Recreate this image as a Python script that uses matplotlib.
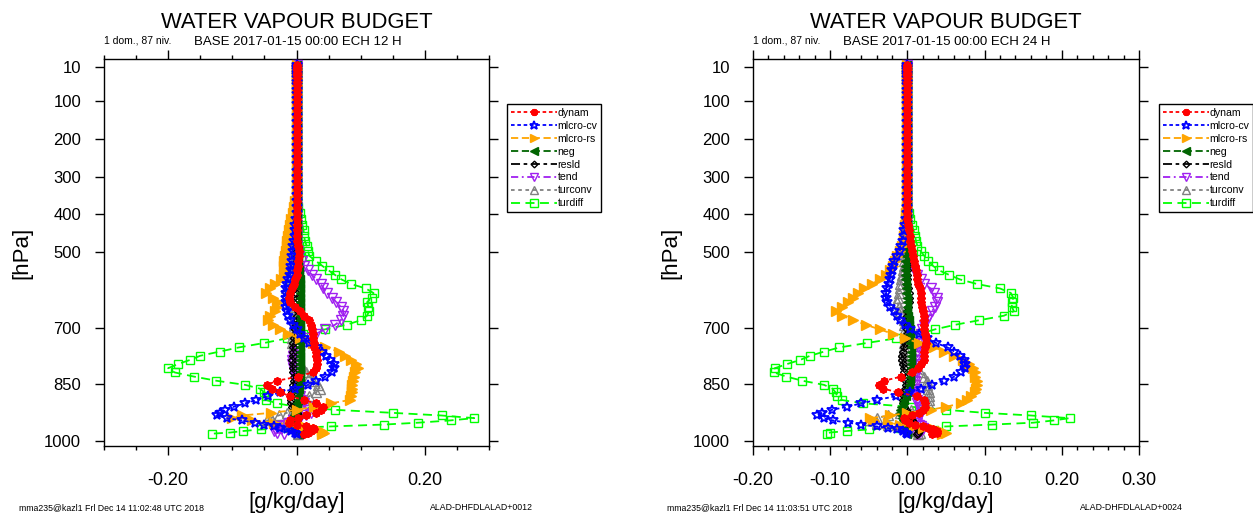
import matplotlib
matplotlib.use("Agg")
import matplotlib.pyplot as plt
from matplotlib.ticker import MultipleLocator, FormatStrFormatter, NullLocator
from matplotlib.lines import Line2D

plt.rcParams['font.family'] = ['Liberation Sans', 'DejaVu Sans']
plt.rcParams['axes.unicode_minus'] = False

# ---------------- data ----------------
levels = [
    5, 10, 14, 19, 25, 32, 40, 49, 59, 70, 82, 95, 109, 124, 140, 156, 172, 188,
    204, 220, 236, 252, 268, 284, 300, 316, 332, 348, 364, 380, 396, 412, 427, 442, 456,
    470, 484, 497, 510, 523, 536, 548, 560, 572, 584, 596, 608, 620,
    632, 644, 656, 668, 680, 692, 704, 716, 728, 740, 752, 763, 774,
    785, 796, 807, 818, 829, 840, 851, 861, 871, 881, 891, 900, 909,
    917, 925, 932, 939, 945, 951, 956, 961, 965, 969, 973, 977, 980,
]

series_names = ["dynam", "micro-cv", "micro-rs", "neg", "resid", "tend", "turconv", "turdiff"]

# ECH 12 H
dynam_12 = [
    0, 0, 0, 0, 0, 0, 0, 0, 0, 0, 0, 0, 0, 0, 0, 0, 0, 0,
    0, 0, 0, 0, 0, 0, 0, 0, 0, 0, 0, 0, 0, 0, 0, 0, 0,
    0.001, 0.003, 0.004, 0.004, 0.003, 0.002, 0.001, 0.000, -0.002, -0.004, -0.007, -0.010, -0.012,
    -0.010, -0.003, 0.005, 0.012, 0.019, 0.022, 0.024, 0.025, 0.026, 0.027, 0.028, 0.030, 0.031,
    0.032, 0.032, 0.030, 0.025, 0.003, -0.030, -0.046, -0.038, -0.025, -0.010, 0.012, 0.030, 0.042,
    0.038, 0.030, 0.015, 0.002, -0.010, -0.012, 0.000, 0.015, 0.025, 0.028, 0.022, 0.018, 0.012,
]
microcv_12 = [
    0, 0, 0, 0, 0, 0, 0, 0, 0, 0, 0, 0, 0, 0, 0, 0, 0, 0,
    0, 0, 0, 0, 0, 0, 0, 0, 0, 0, 0, 0, 0, -0.001, -0.002, -0.003, -0.003,
    -0.004, -0.005, -0.006, -0.007, -0.007, -0.008, -0.009, -0.010, -0.013, -0.015, -0.016, -0.017, -0.017,
    -0.017, -0.016, -0.015, -0.013, -0.010, -0.005, 0.000, 0.005, 0.012, 0.020, 0.032, 0.040, 0.046,
    0.052, 0.058, 0.058, 0.055, 0.045, 0.030, 0.018, -0.003, -0.025, -0.045, -0.063, -0.080, -0.098,
    -0.112, -0.120, -0.124, -0.108, -0.085, -0.065, -0.050, -0.035, -0.025, -0.015, -0.008, -0.003, 0.000,
]
micrors_12 = [
    0, 0, 0, 0, 0, 0, 0, 0, 0, 0, 0, 0, 0, 0, 0, 0, 0, 0,
    0, 0, 0, 0, 0, 0, 0, 0, 0, 0, -0.002, -0.004, -0.006, -0.008, -0.010, -0.012, -0.014,
    -0.015, -0.015, -0.016, -0.018, -0.019, -0.020, -0.017, -0.019, -0.024, -0.033, -0.042, -0.047, -0.036,
    -0.029, -0.030, -0.034, -0.042, -0.045, -0.037, -0.026, -0.014, 0.005, 0.025, 0.045, 0.066, 0.076,
    0.085, 0.092, 0.096, 0.091, 0.089, 0.088, 0.087, 0.087, 0.086, 0.085, 0.083, 0.053, 0.028,
    0.000, -0.040, -0.085, -0.100, -0.070, -0.035, -0.010, 0.012, 0.022, 0.032, 0.040, 0.043, 0.040,
]
neg_12 = [
    0, 0, 0, 0, 0, 0, 0, 0, 0, 0, 0, 0, 0, 0, 0, 0, 0, 0,
    0, 0, 0, 0, 0, 0, 0, 0, 0, 0, 0, 0, 0, 0, 0, 0, 0.001,
    0.001, 0.001, 0.002, 0.002, 0.003, 0.003, 0.004, 0.004, 0.005, 0.005, 0.005, 0.005, 0.005,
    0.005, 0.005, 0.005, 0.005, 0.005, 0.005, 0.006, 0.006, 0.006, 0.006, 0.006, 0.006, 0.006,
    0.006, 0.006, 0.006, 0.005, 0.005, 0.005, 0.004, 0.004, 0.003, 0.003, 0.002, 0.001, 0.000,
    -0.002, -0.003, -0.004, -0.005, -0.006, -0.006, -0.005, -0.004, -0.003, -0.002, -0.001, 0.000, 0.000,
]
resid_12 = [
    0, 0, 0, 0, 0, 0, 0, 0, 0, 0, 0, 0, 0, 0, 0, 0, 0, 0,
    0, 0, 0, 0, 0, 0, 0, 0, 0, 0, 0, 0, 0, 0, 0, 0, 0,
    0.000, 0.000, 0.000, 0.000, 0.000, 0.000, 0.000, 0.000, -0.001, -0.002, -0.002, -0.001, 0.000,
    0.001, 0.002, 0.002, 0.001, 0.000, -0.001, -0.002, -0.003, -0.004, -0.005, -0.006, -0.006, -0.006,
    -0.007, -0.006, -0.006, -0.005, -0.004, -0.004, -0.005, -0.006, -0.007, -0.008, -0.009, -0.009, -0.007,
    -0.004, 0.000, 0.003, 0.002, 0.000, -0.002, 0.002, 0.006, 0.010, 0.013, 0.015, 0.014, 0.010,
]
tend_12 = [
    0, 0, 0, 0, 0, 0, 0, 0, 0, 0, 0, 0, 0, 0, 0, 0, 0, 0,
    0, 0, 0, 0, 0, 0, 0, 0, 0, 0, 0, 0, 0, 0, 0, 0, 0,
    0.000, 0.001, 0.002, 0.004, 0.008, 0.012, 0.018, 0.024, 0.031, 0.038, 0.042, 0.048, 0.055,
    0.062, 0.069, 0.073, 0.073, 0.069, 0.060, 0.045, 0.030, 0.016, 0.008, 0.002, -0.003, -0.006,
    -0.007, -0.007, -0.006, -0.004, -0.002, 0.000, 0.002, 0.003, 0.004, 0.005, 0.007, 0.012, 0.017,
    0.020, 0.022, 0.015, 0.005, -0.005, -0.012, -0.018, -0.025, -0.030, -0.034, -0.035, -0.030, -0.020,
]
turconv_12 = [
    0, 0, 0, 0, 0, 0, 0, 0, 0, 0, 0, 0, 0, 0, 0, 0, 0, 0,
    0, 0, 0, 0, 0, 0, 0, 0, 0, 0, 0, 0, 0, 0, 0, 0, 0,
    0.000, -0.001, -0.002, -0.003, -0.004, -0.005, -0.007, -0.009, -0.011, -0.014, -0.016, -0.015, -0.012,
    -0.009, -0.006, -0.004, -0.003, -0.003, -0.004, -0.005, -0.006, -0.007, -0.007, -0.005, -0.003, 0.000,
    0.002, 0.006, 0.010, 0.015, 0.020, 0.026, 0.034, 0.036, 0.030, 0.020, 0.012, 0.006, 0.001,
    -0.006, -0.015, -0.028, -0.040, -0.046, -0.035, -0.020, -0.010, -0.003, 0.000, 0.002, 0.003, 0.002,
]
turdiff_12 = [
    0, 0, 0, 0, 0, 0, 0, 0, 0, 0, 0, 0, 0, 0, 0, 0, 0, 0,
    0, 0, 0, 0, 0, 0, 0, 0, 0, 0, 0.001, 0.003, 0.005, 0.007, 0.009, 0.011, 0.012,
    0.013, 0.016, 0.018, 0.020, 0.030, 0.040, 0.050, 0.060, 0.070, 0.085, 0.108, 0.120, 0.118,
    0.110, 0.112, 0.113, 0.110, 0.100, 0.078, 0.045, 0.010, -0.015, -0.050, -0.090, -0.120, -0.150,
    -0.166, -0.185, -0.200, -0.190, -0.160, -0.125, -0.080, -0.057, -0.050, -0.048, -0.047, -0.030, 0.000,
    0.060, 0.150, 0.226, 0.277, 0.240, 0.190, 0.136, 0.053, -0.010, -0.056, -0.083, -0.103, -0.131,
]

# ECH 24 H
dynam_24 = [
    0, 0, 0, 0, 0, 0, 0, 0, 0, 0, 0, 0, 0, 0, 0, 0, 0, 0,
    0, 0, 0, 0, 0, 0, 0, 0, 0, 0, 0, 0, 0, 0, 0.001, 0.002, 0.003,
    0.004, 0.005, 0.006, 0.007, 0.008, 0.010, 0.011, 0.012, 0.013, 0.014, 0.016, 0.017, 0.018,
    0.018, 0.019, 0.020, 0.021, 0.021, 0.022, 0.022, 0.023, 0.024, 0.024, 0.023, 0.022, 0.022,
    0.021, 0.018, 0.014, 0.006, -0.008, -0.030, -0.037, -0.031, -0.012, 0.012, 0.022, 0.023, 0.023,
    0.020, 0.015, 0.006, -0.004, -0.003, 0.002, 0.010, 0.020, 0.027, 0.033, 0.038, 0.038, 0.032,
]
microcv_24 = [
    0, 0, 0, 0, 0, 0, 0, 0, 0, 0, 0, 0, 0, 0, 0, 0, 0, 0,
    0, 0, 0, 0, 0, 0, 0, 0, 0, 0, 0, 0, -0.001, -0.002, -0.003, -0.004, -0.005,
    -0.006, -0.008, -0.010, -0.014, -0.017, -0.019, -0.020, -0.021, -0.023, -0.024, -0.026, -0.028, -0.028,
    -0.027, -0.023, -0.018, -0.014, -0.009, -0.003, 0.004, 0.015, 0.026, 0.037, 0.052, 0.061, 0.068,
    0.073, 0.075, 0.074, 0.069, 0.061, 0.047, 0.032, 0.018, 0.004, -0.015, -0.040, -0.060, -0.078,
    -0.098, -0.110, -0.117, -0.108, -0.097, -0.077, -0.060, -0.040, -0.025, -0.013, -0.006, -0.002, 0.000,
]
micrors_24 = [
    0, 0, 0, 0, 0, 0, 0, 0, 0, 0, 0, 0, 0, 0, 0, 0, 0, 0,
    0, 0, 0, 0, 0, 0, 0, 0, 0, 0, -0.001, -0.001, -0.002, -0.002, -0.003, -0.003, -0.004,
    -0.005, -0.007, -0.010, -0.013, -0.016, -0.019, -0.022, -0.028, -0.036, -0.046, -0.056, -0.064, -0.071,
    -0.077, -0.085, -0.092, -0.085, -0.070, -0.054, -0.036, -0.019, -0.003, 0.015, 0.035, 0.048, 0.061,
    0.072, 0.080, 0.085, 0.087, 0.088, 0.090, 0.090, 0.089, 0.087, 0.083, 0.077, 0.069, 0.050,
    0.030, 0.000, -0.022, -0.048, -0.045, -0.025, -0.010, 0.008, 0.020, 0.034, 0.045, 0.050, 0.045,
]
neg_24 = [
    0, 0, 0, 0, 0, 0, 0, 0, 0, 0, 0, 0, 0, 0, 0, 0, 0, 0,
    0, 0, 0, 0, 0, 0, 0, 0, 0, 0, 0, 0, 0, 0, 0, 0, -0.001,
    -0.001, -0.001, -0.002, -0.002, -0.003, -0.003, -0.003, -0.003, -0.003, -0.002, -0.002, -0.002, -0.001,
    -0.001, 0.000, 0.000, 0.001, 0.002, 0.002, 0.003, 0.003, 0.004, 0.004, 0.005, 0.005, 0.005,
    0.005, 0.005, 0.005, 0.004, 0.004, 0.003, 0.002, 0.001, 0.000, -0.002, -0.004, -0.006, -0.008,
    -0.009, -0.009, -0.008, -0.007, -0.006, -0.005, -0.004, -0.003, -0.002, -0.002, -0.001, -0.001, 0.000,
]
resid_24 = [
    0, 0, 0, 0, 0, 0, 0, 0, 0, 0, 0, 0, 0, 0, 0, 0, 0, 0,
    0, 0, 0, 0, 0, 0, 0, 0, 0, 0, 0, 0, 0, 0, 0, 0, 0,
    0.000, 0.000, 0.001, 0.001, 0.001, 0.000, 0.000, -0.001, -0.001, 0.000, 0.001, 0.002, 0.002,
    0.002, 0.001, 0.000, -0.001, -0.001, 0.000, 0.000, -0.001, -0.002, -0.003, -0.005, -0.006, -0.007,
    -0.007, -0.006, -0.005, -0.004, -0.003, -0.002, -0.002, -0.003, -0.004, -0.005, -0.006, -0.006, -0.004,
    -0.002, 0.000, 0.002, 0.004, 0.006, 0.008, 0.010, 0.012, 0.013, 0.014, 0.015, 0.014, 0.012,
]
tend_24 = [
    0, 0, 0, 0, 0, 0, 0, 0, 0, 0, 0, 0, 0, 0, 0, 0, 0, 0,
    0, 0, 0, 0, 0, 0, 0, 0, 0, 0, 0, 0, 0, 0, 0, 0, 0,
    0.000, 0.001, 0.002, 0.003, 0.004, 0.006, 0.008, 0.012, 0.017, 0.022, 0.030, 0.035, 0.038,
    0.038, 0.036, 0.032, 0.028, 0.025, 0.021, 0.019, 0.017, 0.016, 0.015, 0.014, 0.013, 0.012,
    0.012, 0.011, 0.011, 0.011, 0.010, 0.010, 0.010, 0.010, 0.010, 0.011, 0.012, 0.013, 0.015,
    0.017, 0.018, 0.016, 0.012, 0.010, 0.012, 0.015, 0.018, 0.020, 0.020, 0.018, 0.015, 0.012,
]
turconv_24 = [
    0, 0, 0, 0, 0, 0, 0, 0, 0, 0, 0, 0, 0, 0, 0, 0, 0, 0,
    0, 0, 0, 0, 0, 0, 0, 0, 0, 0, 0, 0, 0, 0, 0, 0, 0,
    0.000, -0.001, -0.002, -0.003, -0.004, -0.005, -0.006, -0.007, -0.008, -0.009, -0.010, -0.011, -0.012,
    -0.013, -0.011, -0.009, -0.007, -0.005, -0.004, -0.003, -0.003, -0.003, -0.004, -0.005, -0.006, -0.006,
    -0.005, 0.000, 0.008, 0.016, 0.022, 0.025, 0.026, 0.027, 0.028, 0.028, 0.028, 0.027, 0.018,
    0.005, -0.010, -0.025, -0.040, -0.050, -0.040, -0.025, -0.010, 0.000, 0.008, 0.013, 0.016, 0.014,
]
turdiff_24 = [
    0, 0, 0, 0, 0, 0, 0, 0, 0, 0, 0, 0, 0, 0, 0, 0, 0, 0,
    0, 0, 0, 0, 0, 0, 0, 0, 0, 0, 0, 0, 0.002, 0.004, 0.006, 0.008, 0.010,
    0.011, 0.013, 0.017, 0.022, 0.027, 0.033, 0.041, 0.054, 0.068, 0.090, 0.120, 0.134, 0.137,
    0.136, 0.135, 0.138, 0.125, 0.093, 0.062, 0.036, 0.016, -0.015, -0.052, -0.088, -0.108, -0.126,
    -0.139, -0.156, -0.172, -0.173, -0.157, -0.136, -0.108, -0.097, -0.093, -0.091, -0.085, -0.057, 0.005,
    0.050, 0.100, 0.160, 0.210, 0.190, 0.163, 0.110, 0.050, -0.010, -0.050, -0.078, -0.100, -0.104,
]

ytick_values = [10, 100, 200, 300, 400, 500, 700, 850, 1000]
ytick_labels = ["10", "100", "200", "300", "400", "500", "700", "850", "1000"]

title_text = "WATER VAPOUR BUDGET"
info_text = "1 dom., 87 niv."
base_12 = "BASE 2017-01-15 00:00 ECH 12 H"
base_24 = "BASE 2017-01-15 00:00 ECH 24 H"
foot_left_12 = "mma235@kazl1 Frl Dec 14 11:02:48 UTC 2018"
foot_left_24 = "mma235@kazl1 Frl Dec 14 11:03:51 UTC 2018"
foot_right_12 = "ALAD-DHFDLALAD+0012"
foot_right_24 = "ALAD-DHFDLALAD+0024"
legend_labels = ["dynam", "mlcro-cv", "mlcro-rs", "neg", "resld", "tend", "turconv", "turdiff"]

# ---------------- styles ----------------
styles = {
    "dynam":    dict(color="#ff0000", ls=(0, (2.0, 1.5)), marker=(8, 2, 0), ms=6.0, mfc="#ff0000", mew=1.4),
    "micro-cv": dict(color="#0000ff", ls=(0, (2.0, 1.5)), marker="*", ms=7.5, mfc="none", mew=1.3),
    "micro-rs": dict(color="#ffa500", ls=(0, (4.0, 2.0)), marker=">", ms=6.5, mfc="#ffa500", mew=1.0),
    "neg":      dict(color="#006400", ls=(0, (4.0, 2.0)), marker="<", ms=6.0, mfc="#006400", mew=1.0),
    "resid":    dict(color="#000000", ls=(0, (5.0, 2.0, 2.0, 2.0)), marker="D", ms=4.0, mfc="none", mew=1.0),
    "tend":     dict(color="#a020f0", ls=(0, (4.0, 2.0, 1.0, 2.0)), marker="v", ms=6.5, mfc="none", mew=1.0),
    "turconv":  dict(color="#808080", ls=(0, (2.0, 2.0)), marker="^", ms=6.5, mfc="none", mew=1.0),
    "turdiff":  dict(color="#00ff00", ls=(0, (5.0, 3.0)), marker="s", ms=6.0, mfc="none", mew=1.0),
}

fig = plt.figure(figsize=(12.53, 5.17), dpi=100)
W, H = 1253.0, 517.0
ax1 = fig.add_axes([104 / W, 71 / H, 385 / W, 386.7 / H])
ax2 = fig.add_axes([753 / W, 71 / H, 386 / W, 386.7 / H])

panels = [
    (ax1, [dynam_12, microcv_12, micrors_12, neg_12, resid_12, tend_12, turconv_12, turdiff_12],
     (-0.3, 0.3), 0.2, 0.05, base_12, foot_left_12, foot_right_12, 507),
    (ax2, [dynam_24, microcv_24, micrors_24, neg_24, resid_24, tend_24, turconv_24, turdiff_24],
     (-0.2, 0.3), 0.1, 0.02, base_24, foot_left_24, foot_right_24, 1159),
]

for ax, vals, xlim, major, minor, base, fl, fr, legx in panels:
    n = len(series_names)
    for i in reversed(range(n)):
        st = styles[series_names[i]]
        ax.plot(vals[i], levels, color=st["color"], linestyle=st["ls"], lw=1.3,
                marker=st["marker"], markersize=st["ms"], markerfacecolor=st["mfc"],
                markeredgecolor=st["color"], markeredgewidth=st["mew"], zorder=10 + (n - i))
    ax.set_ylim(1012.7, -10.3)
    ax.set_yticks(ytick_values)
    ax.set_yticklabels(ytick_labels)
    ax.yaxis.set_minor_locator(NullLocator())
    ax.set_xlim(*xlim)
    ax.xaxis.set_major_locator(MultipleLocator(major))
    ax.xaxis.set_minor_locator(MultipleLocator(minor))
    ax.xaxis.set_major_formatter(FormatStrFormatter("%.2f"))
    ax.tick_params(which="both", direction="out", top=True, right=True, width=1.0, color="black")
    ax.tick_params(which="major", length=6.5)
    ax.tick_params(which="minor", length=3.2)
    ax.tick_params(axis="y", labelsize=12, pad=10)
    ax.tick_params(axis="x", labelsize=13, pad=12)
    for sp in ax.spines.values():
        sp.set_linewidth(1.0)

    ax.set_xlabel("[g/kg/day]", fontsize=16)
    ax.xaxis.set_label_coords(0.5, -0.145)
    ax.xaxis.label.set_va("center")
    ax.set_ylabel("[hPa]", fontsize=16)
    ax.yaxis.set_label_coords(-0.213, 0.50)
    ax.yaxis.label.set_va("center")

    ax.text(0.5, 1.081, title_text, transform=ax.transAxes, ha="center", va="baseline", fontsize=15.8)
    ax.text(0.0, 1.040, info_text, transform=ax.transAxes, ha="left", va="baseline", fontsize=7.5)
    ax.text(0.2338, 1.037, base, transform=ax.transAxes, ha="left", va="baseline", fontsize=9.5)
    ax.text(-0.222, -0.160, fl, transform=ax.transAxes, ha="left", va="center", fontsize=6.3)
    ax.text(0.848, -0.160, fr, transform=ax.transAxes, ha="left", va="center", fontsize=6.3)

    handles = []
    for name in series_names:
        st = styles[name]
        handles.append(Line2D([], [], color=st["color"], linestyle=st["ls"], lw=1.3,
                              marker=st["marker"], markersize=st["ms"] * 0.85, markerfacecolor=st["mfc"],
                              markeredgecolor=st["color"], markeredgewidth=st["mew"]))
    leg = fig.legend(handles, legend_labels, loc="upper left",
                     bbox_to_anchor=(legx / W, (H - 104) / H), bbox_transform=fig.transFigure,
                     fontsize=7.6, frameon=True, fancybox=False, edgecolor="black",
                     handlelength=4.4, handletextpad=0.05, labelspacing=0.28, borderpad=0.35,
                     borderaxespad=0.0, numpoints=1, framealpha=1.0)
    leg.get_frame().set_linewidth(1.0)

fig.savefig("out.png", dpi=100)
